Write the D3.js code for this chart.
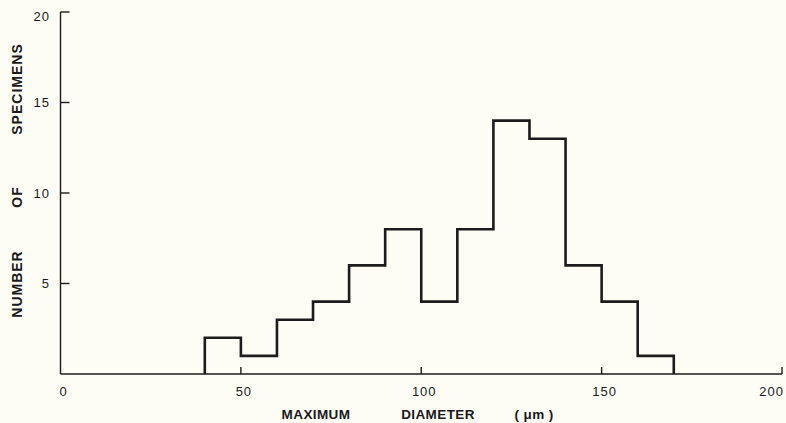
<!DOCTYPE html>
<html>
<head>
<meta charset="utf-8">
<script src="https://cdn.jsdelivr.net/npm/d3@7"></script>
<style>
  html, body { margin: 0; padding: 0; background: #fdfdf6; }
  svg { display: block; }
  text { font-family: "Liberation Sans", Arial, sans-serif; fill: #1a1a1a; }
</style>
</head>
<body>
<svg id="chart" width="786" height="423"></svg>
<script>
// Histogram bins (lower edge, width 10 µm) and counts
const binStarts = [40, 50, 60, 70, 80, 90, 100, 110, 120, 130, 140, 150, 160];
const binWidth = 10;
const counts = [2, 1, 3, 4, 6, 8, 4, 8, 14, 13, 6, 4, 1];
const xTicks = [0, 50, 100, 150, 200];
const yTicks = [5, 10, 15, 20];
const xTitleWords = ["MAXIMUM", "DIAMETER", "( \u03bcm )"];
const yTitleWords = ["NUMBER", "OF", "SPECIMENS"];

const svg = d3.select("#chart");
const x = d3.scaleLinear().domain([0, 200]).range([60.5, 782]);
const y = d3.scaleLinear().domain([0, 20]).range([374, 12]);
const ink = "#1c1c1c";

// Axes lines
svg.append("line").attr("x1", x(0)).attr("x2", x(200)).attr("y1", y(0)).attr("y2", y(0))
  .attr("stroke", ink).attr("stroke-width", 1.4);
svg.append("line").attr("x1", x(0)).attr("x2", x(0)).attr("y1", y(0)).attr("y2", y(20))
  .attr("stroke", ink).attr("stroke-width", 1.4);

// Y ticks (pointing right) and labels
svg.selectAll(".yt").data(yTicks).join("line")
  .attr("x1", x(0)).attr("x2", x(0) + 9)
  .attr("y1", d => y(d)).attr("y2", d => y(d))
  .attr("stroke", ink).attr("stroke-width", 1.4);
svg.selectAll(".yl").data(yTicks).join("text")
  .attr("x", 50).attr("y", d => y(d) + (d === 20 ? 4.5 : 0))
  .attr("text-anchor", "end").attr("dominant-baseline", "central")
  .attr("font-size", 13).attr("letter-spacing", 1).text(d => d);

// X ticks (pointing up) and labels
svg.selectAll(".xt").data(xTicks.filter(d => d > 0)).join("line")
  .attr("x1", d => x(d)).attr("x2", d => x(d))
  .attr("y1", y(0)).attr("y2", y(0) - 7)
  .attr("stroke", ink).attr("stroke-width", 1.4);
svg.selectAll(".xl").data(xTicks).join("text")
  .attr("x", d => d === 200 ? x(d) + 2 : x(d) + 3)
  .attr("y", 391.5)
  .attr("text-anchor", d => d === 200 ? "end" : "middle")
  .attr("dominant-baseline", "central")
  .attr("font-size", 13).attr("letter-spacing", 1).text(d => d);

// Histogram outline as a step path
const pts = [];
binStarts.forEach((s, i) => {
  if (i === 0) pts.push([x(s), y(0)]);
  pts.push([x(s), y(counts[i])]);
  pts.push([x(s + binWidth), y(counts[i])]);
});
pts.push([x(binStarts[binStarts.length - 1] + binWidth), y(0)]);
svg.append("path").attr("d", d3.line()(pts))
  .attr("fill", "none").attr("stroke", ink).attr("stroke-width", 2.6)
  .attr("stroke-linejoin", "miter");

// X axis title
const xTitleX = [316, 438, 534];
svg.selectAll(".xtt").data(xTitleWords).join("text")
  .attr("x", (d, i) => xTitleX[i]).attr("y", 414)
  .attr("text-anchor", "middle").attr("dominant-baseline", "central")
  .attr("font-size", 13.5).attr("font-weight", "bold").attr("fill", "#2a2a2a")
  .attr("letter-spacing", 0.4)
  .text(d => d);

// Y axis title (rotated)
const yTitleY = [284, 197, 89];
svg.selectAll(".ytt").data(yTitleWords).join("text")
  .attr("transform", (d, i) => `translate(17,${yTitleY[i]}) rotate(-90)`)
  .attr("text-anchor", "middle").attr("dominant-baseline", "central")
  .attr("font-size", 14).attr("font-weight", "bold").attr("fill", "#2a2a2a")
  .attr("letter-spacing", 1)
  .text(d => d);
</script>
</body>
</html>
